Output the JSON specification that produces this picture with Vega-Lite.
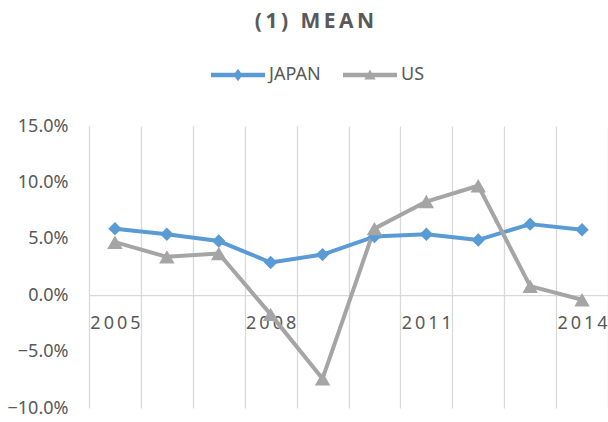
{
  "$schema": "https://vega.github.io/schema/vega-lite/v6.json",
  "width": 519,
  "height": 282,
  "autosize": "none",
  "padding": {"left": 89, "top": 126, "right": 0, "bottom": 14},
  "background": "white",
  "title": {
    "text": "(\u20091\u2009)\u2009 \u2009M\u2009E\u2009A\u2009N",
    "anchor": "middle",
    "frame": "group",
    "font": "Noto Sans",
    "fontSize": 21,
    "fontWeight": "bold",
    "color": "#595959",
    "offset": 16,
    "dx": -34
  },
  "data": {
    "values": [
      {"year": "2005", "series": "JAPAN", "value": 0.059},
      {"year": "2006", "series": "JAPAN", "value": 0.054},
      {"year": "2007", "series": "JAPAN", "value": 0.048},
      {"year": "2008", "series": "JAPAN", "value": 0.029},
      {"year": "2009", "series": "JAPAN", "value": 0.036},
      {"year": "2010", "series": "JAPAN", "value": 0.052},
      {"year": "2011", "series": "JAPAN", "value": 0.054},
      {"year": "2012", "series": "JAPAN", "value": 0.049},
      {"year": "2013", "series": "JAPAN", "value": 0.063},
      {"year": "2014", "series": "JAPAN", "value": 0.058},
      {"year": "2005", "series": "US", "value": 0.047},
      {"year": "2006", "series": "US", "value": 0.034},
      {"year": "2007", "series": "US", "value": 0.037},
      {"year": "2008", "series": "US", "value": -0.017},
      {"year": "2009", "series": "US", "value": -0.074},
      {"year": "2010", "series": "US", "value": 0.059},
      {"year": "2011", "series": "US", "value": 0.083},
      {"year": "2012", "series": "US", "value": 0.097},
      {"year": "2013", "series": "US", "value": 0.008},
      {"year": "2014", "series": "US", "value": -0.004}
    ]
  },
  "encoding": {
    "x": {
      "field": "year",
      "type": "ordinal",
      "scale": {"type": "band", "paddingInner": 0, "paddingOuter": 0},
      "axis": {
        "title": null,
        "tickBand": "extent",
        "grid": true,
        "gridColor": "#d9d9d9",
        "gridWidth": 1.3,
        "domainColor": "#d9d9d9",
        "domainWidth": 1.3,
        "ticks": false,
        "tickSize": 0,
        "labelAngle": 0,
        "labelFont": "Noto Sans",
        "labelFontSize": 18,
        "labelColor": "#595959",
        "labelPadding": 19,
        "labelExpr": "indexof(['2005','2008','2011','2014'], datum.label) >= 0 ? join(split(datum.label, ''), '\u2009') : ''",
        "offset": -112.8
      }
    },
    "y": {
      "field": "value",
      "type": "quantitative",
      "scale": {"domain": [-0.1, 0.15], "nice": false, "zero": false},
      "axis": {
        "title": null,
        "values": [-0.1, -0.05, 0, 0.05, 0.1, 0.15],
        "format": ".1%",
        "grid": false,
        "domain": false,
        "ticks": false,
        "tickSize": 0,
        "labelFont": "Noto Sans",
        "labelFontSize": 18,
        "labelColor": "#595959",
        "labelPadding": 21
      }
    },
    "color": {
      "field": "series",
      "type": "nominal",
      "scale": {"domain": ["JAPAN", "US"], "range": ["#5B9BD5", "#A5A5A5"]},
      "legend": {
        "title": null,
        "orient": "none",
        "direction": "horizontal",
        "legendX": 122,
        "legendY": -78,
        "padding": 0,
        "symbolSize": 2916,
        "labelFont": "Noto Sans",
        "labelFontSize": 18,
        "labelColor": "#595959",
        "labelOffset": 4,
        "columnPadding": 22,
        "encode": {
          "symbols": {
            "update": {
              "shape": {"signal": "datum.value === 'JAPAN' ? 'M-1,-0.083H1V0.083H-1ZM0,-0.235L0.17,0L0,0.235L-0.17,0Z' : 'M-1,-0.083H1V0.083H-1ZM0,-0.2L0.21,0.17L-0.21,0.17Z'"},
              "size": {"value": 2916},
              "fill": {"signal": "datum.value === 'JAPAN' ? '#5B9BD5' : '#A5A5A5'"},
              "stroke": {"value": "transparent"},
              "strokeWidth": {"value": 0},
              "opacity": {"value": 1},
              "fillOpacity": {"value": 1}
            }
          }
        }
      }
    }
  },
  "layer": [
    {
      "mark": {"type": "line", "strokeWidth": 4, "strokeJoin": "round", "strokeCap": "round"}
    },
    {
      "transform": [{"filter": "datum.series === 'JAPAN'"}],
      "mark": {"type": "point", "shape": "diamond", "size": 180, "filled": true, "opacity": 1, "strokeWidth": 0}
    },
    {
      "transform": [{"filter": "datum.series === 'US'"}],
      "mark": {"type": "point", "shape": "triangle-up", "size": 240, "filled": true, "opacity": 1, "strokeWidth": 0}
    }
  ],
  "config": {
    "view": {"stroke": null}
  }
}
